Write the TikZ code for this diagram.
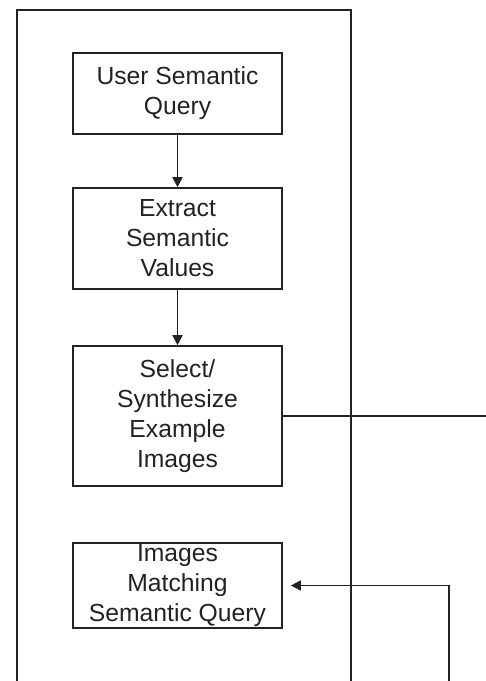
\documentclass[tikz,border=0pt]{standalone}
\usepackage{fontspec}
\setmainfont{Liberation Sans}
\usetikzlibrary{arrows.meta}
\definecolor{ink}{HTML}{222222}
\tikzset{
  stepbox/.style={draw=ink, line width=1.6pt, rectangle, inner sep=0pt,
    minimum width=209pt, align=center, text=ink,
    font=\fontsize{24.7}{30}\selectfont},
  flow/.style={draw=ink, line width=1.6pt, -{Triangle[length=10pt,width=10pt]}},
  wire/.style={draw=ink, line width=1.6pt},
}
\begin{document}
\begin{tikzpicture}[x=1pt, y=-1pt]
  \useasboundingbox (0,0) rectangle (486,681);
  % open frame around the pipeline
  \coordinate (fbl) at (17,681);
  \coordinate (ftl) at (17,10);
  \coordinate (ftr) at (351,10);
  \coordinate (fbr) at (351,681);
  \draw[wire] (fbl) -- (ftl) -- (ftr) -- (fbr);

  % processing steps
  \node[stepbox, minimum height=81pt]  (query)   at (177.5,93.5)  {User Semantic\\Query};
  \node[stepbox, minimum height=101pt] (extract) at (177.5,238.5) {Extract\\Semantic\\Values};
  \node[stepbox, minimum height=140pt] (select)  at (177.5,416)   {Select/\\Synthesize\\Example\\Images};
  \node[stepbox, minimum height=85pt]  (result)  at (177.5,585.5) {Images\\Matching\\Semantic Query};

  \draw[flow] (query) -- (extract);
  \draw[flow] (extract) -- (select);

  % outgoing and returning connections
  \coordinate (out) at (486,416);
  \draw[wire] (select.east) -- (out);
  \coordinate (ret) at (449,681);
  \coordinate (tip) at ([xshift=8pt]result.east);
  \draw[flow] (ret) |- (tip);
\end{tikzpicture}
\end{document}
